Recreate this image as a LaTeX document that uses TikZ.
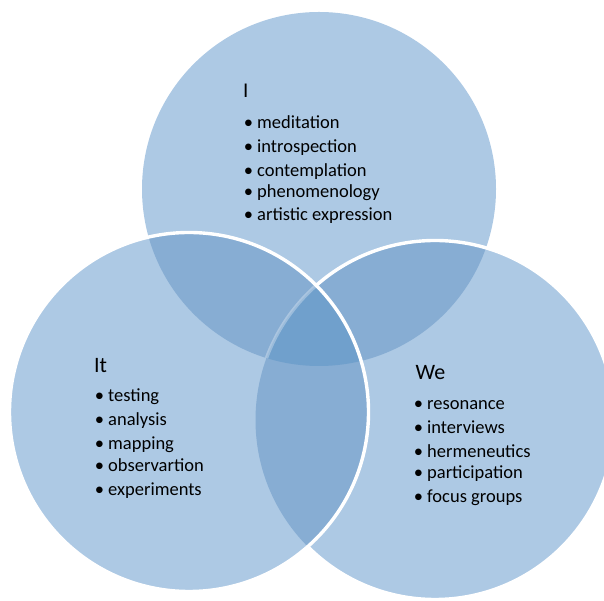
\documentclass[tikz,border=0pt]{standalone}
\usepackage{fontspec}
\setmainfont{Carlito}
\definecolor{vlight}{HTML}{ADC9E4}
\definecolor{vmid}{HTML}{87ADD3}
\definecolor{vdark}{HTML}{70A0CC}
\tikzset{
  head/.style={anchor=base west, inner sep=0pt, font=\fontsize{21}{21}\selectfont},
  item/.style={anchor=base west, inner sep=0pt, font=\fontsize{18.5}{18.5}\selectfont},
  rim/.style={draw=white, line width=3.4pt}
}
\newcommand\bul{\llap{•\hspace{4pt}}}
\begin{document}
\begin{tikzpicture}[x=1pt,y=1pt]
\useasboundingbox (0,0) rectangle (604,601);
\coordinate (T) at (319,412);
\coordinate (L) at (189,189);
\coordinate (R) at (435,181);
\def\rT{177pt}\def\rL{179.5pt}\def\rR{179.5pt}
% base fills
\fill[vlight] (T) circle[radius=\rT];
\fill[vlight] (L) circle[radius=\rL];
\fill[vlight] (R) circle[radius=\rR];
% pairwise overlaps
\begin{scope}
  \clip (T) circle[radius=\rT];
  \fill[vmid] (L) circle[radius=\rL];
  \fill[vmid] (R) circle[radius=\rR];
\end{scope}
\begin{scope}
  \clip (L) circle[radius=\rL];
  \fill[vmid] (R) circle[radius=\rR];
\end{scope}
% triple overlap
\begin{scope}
  \clip (T) circle[radius=\rT];
  \clip (L) circle[radius=\rL];
  \fill[vdark] (R) circle[radius=\rR];
  \draw[rim, draw opacity=0.3] (R) circle[radius=\rR];
\end{scope}
% right rim outside the left circle
\begin{scope}[even odd rule]
  \clip (-10,-10) rectangle (620,620) (L) circle[radius=\rL];
  \draw[rim] (R) circle[radius=\rR];
\end{scope}
% left rim
\draw[rim] (L) circle[radius=\rL];
% texts: I
\node[head] (hI) at (243,503) {I};
\node[item] (i1) at (257,472) {\bul meditation};
\node[item] (i2) at (257,448) {\bul introspection};
\node[item] (i3) at (257,424) {\bul contemplation};
\node[item] (i4) at (257,403) {\bul phenomenology};
\node[item] (i5) at (257,380) {\bul artistic expression};
% It
\node[head, font=\fontsize{22}{22}\selectfont] (hIt) at (94,228) {It};
\node[item] (t1) at (108,199) {\bul testing};
\node[item] (t2) at (108,175) {\bul analysis};
\node[item] (t3) at (108,151) {\bul mapping};
\node[item] (t4) at (108,129) {\bul observartion};
\node[item] (t5) at (108,105) {\bul experiments};
% We
\node[head, font=\fontsize{22}{22}\selectfont] (hWe) at (415.5,221) {We};
\node[item] (w1) at (427,191) {\bul resonance};
\node[item] (w2) at (427,167) {\bul interviews};
\node[item] (w3) at (427,143) {\bul hermeneutics};
\node[item] (w4) at (427,122) {\bul participation};
\node[item] (w5) at (427,98) {\bul focus groups};
\end{tikzpicture}
\end{document}
